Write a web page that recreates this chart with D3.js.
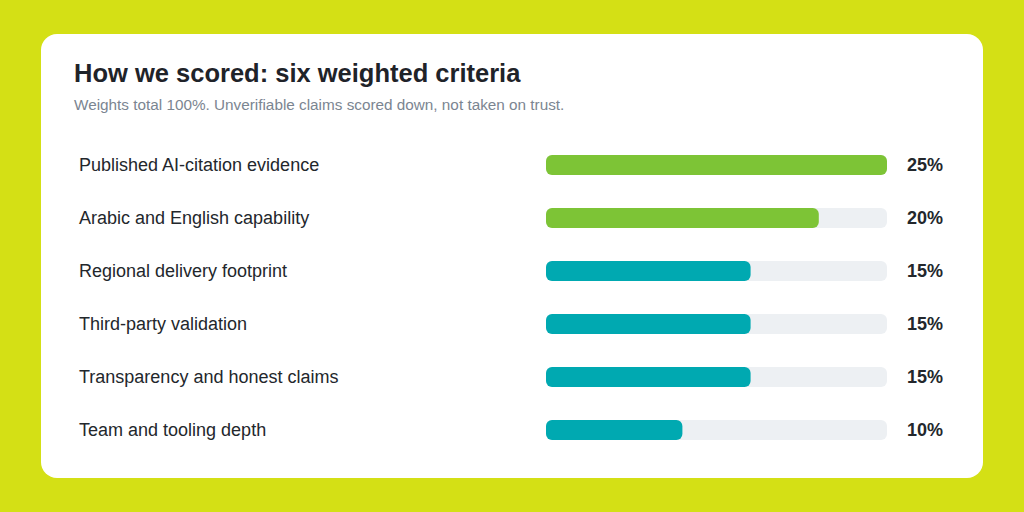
<!DOCTYPE html>
<html><head><meta charset="utf-8">
<script src="https://cdn.jsdelivr.net/npm/d3@7/dist/d3.min.js"></script>
<style>
html,body{margin:0;padding:0;background:#d4e015;}
svg{display:block;font-family:"Liberation Sans",Arial,sans-serif;}
</style></head>
<body>
<svg id="chart" width="1024" height="512"></svg>
<script>
const categories = [
  "Published AI-citation evidence",
  "Arabic and English capability",
  "Regional delivery footprint",
  "Third-party validation",
  "Transparency and honest claims",
  "Team and tooling depth"
];
const weights = [25, 20, 15, 15, 15, 10];
const groups = ["green", "green", "teal", "teal", "teal", "teal"];
const valueLabels = ["25%", "20%", "15%", "15%", "15%", "10%"];

const svg = d3.select("#chart");
svg.append("rect").attr("width",1024).attr("height",512).attr("fill","#d4e015");
svg.append("rect").attr("x",41).attr("y",34).attr("width",942).attr("height",444)
  .attr("rx",16).attr("fill","#ffffff");

svg.append("text").attr("x",74).attr("y",82).attr("font-size",25.5).attr("font-weight","bold")
  .attr("fill","#1f2329").text("How we scored: six weighted criteria");
svg.append("text").attr("x",74).attr("y",110).attr("font-size",15.3)
  .attr("fill","#7b8591").text("Weights total 100%. Unverifiable claims scored down, not taken on trust.");

const x = d3.scaleLinear().domain([0, 25]).range([546, 887]);
const y = d3.scaleBand().domain(categories).range([138.5, 456.5]).paddingInner(0.62).paddingOuter(0.31);
const color = d3.scaleOrdinal().domain(["green","teal"]).range(["#7dc436","#00a9b1"]);

const rows = svg.append("g").selectAll("g").data(categories).join("g");
rows.append("text").attr("x",79).attr("y",(d)=>y(d)+y.bandwidth()/2 - 0.5).attr("dy","0.35em")
  .attr("font-size",18).attr("fill","#23272c").text(d=>d);
rows.append("rect").attr("x",x(0)).attr("y",d=>y(d)).attr("width",x(25)-x(0))
  .attr("height",y.bandwidth()).attr("rx",6).attr("fill","#edf0f3");
rows.append("rect").attr("x",x(0)).attr("y",d=>y(d)).attr("width",(d,i)=>x(weights[i])-x(0))
  .attr("height",y.bandwidth()).attr("rx",6).attr("fill",(d,i)=>color(groups[i]));
rows.append("text").attr("x",907).attr("y",d=>y(d)+y.bandwidth()/2).attr("dy","0.35em")
  .attr("font-size",18).attr("font-weight","bold").attr("fill","#23272c").text((d,i)=>valueLabels[i]);
</script>
</body></html>
